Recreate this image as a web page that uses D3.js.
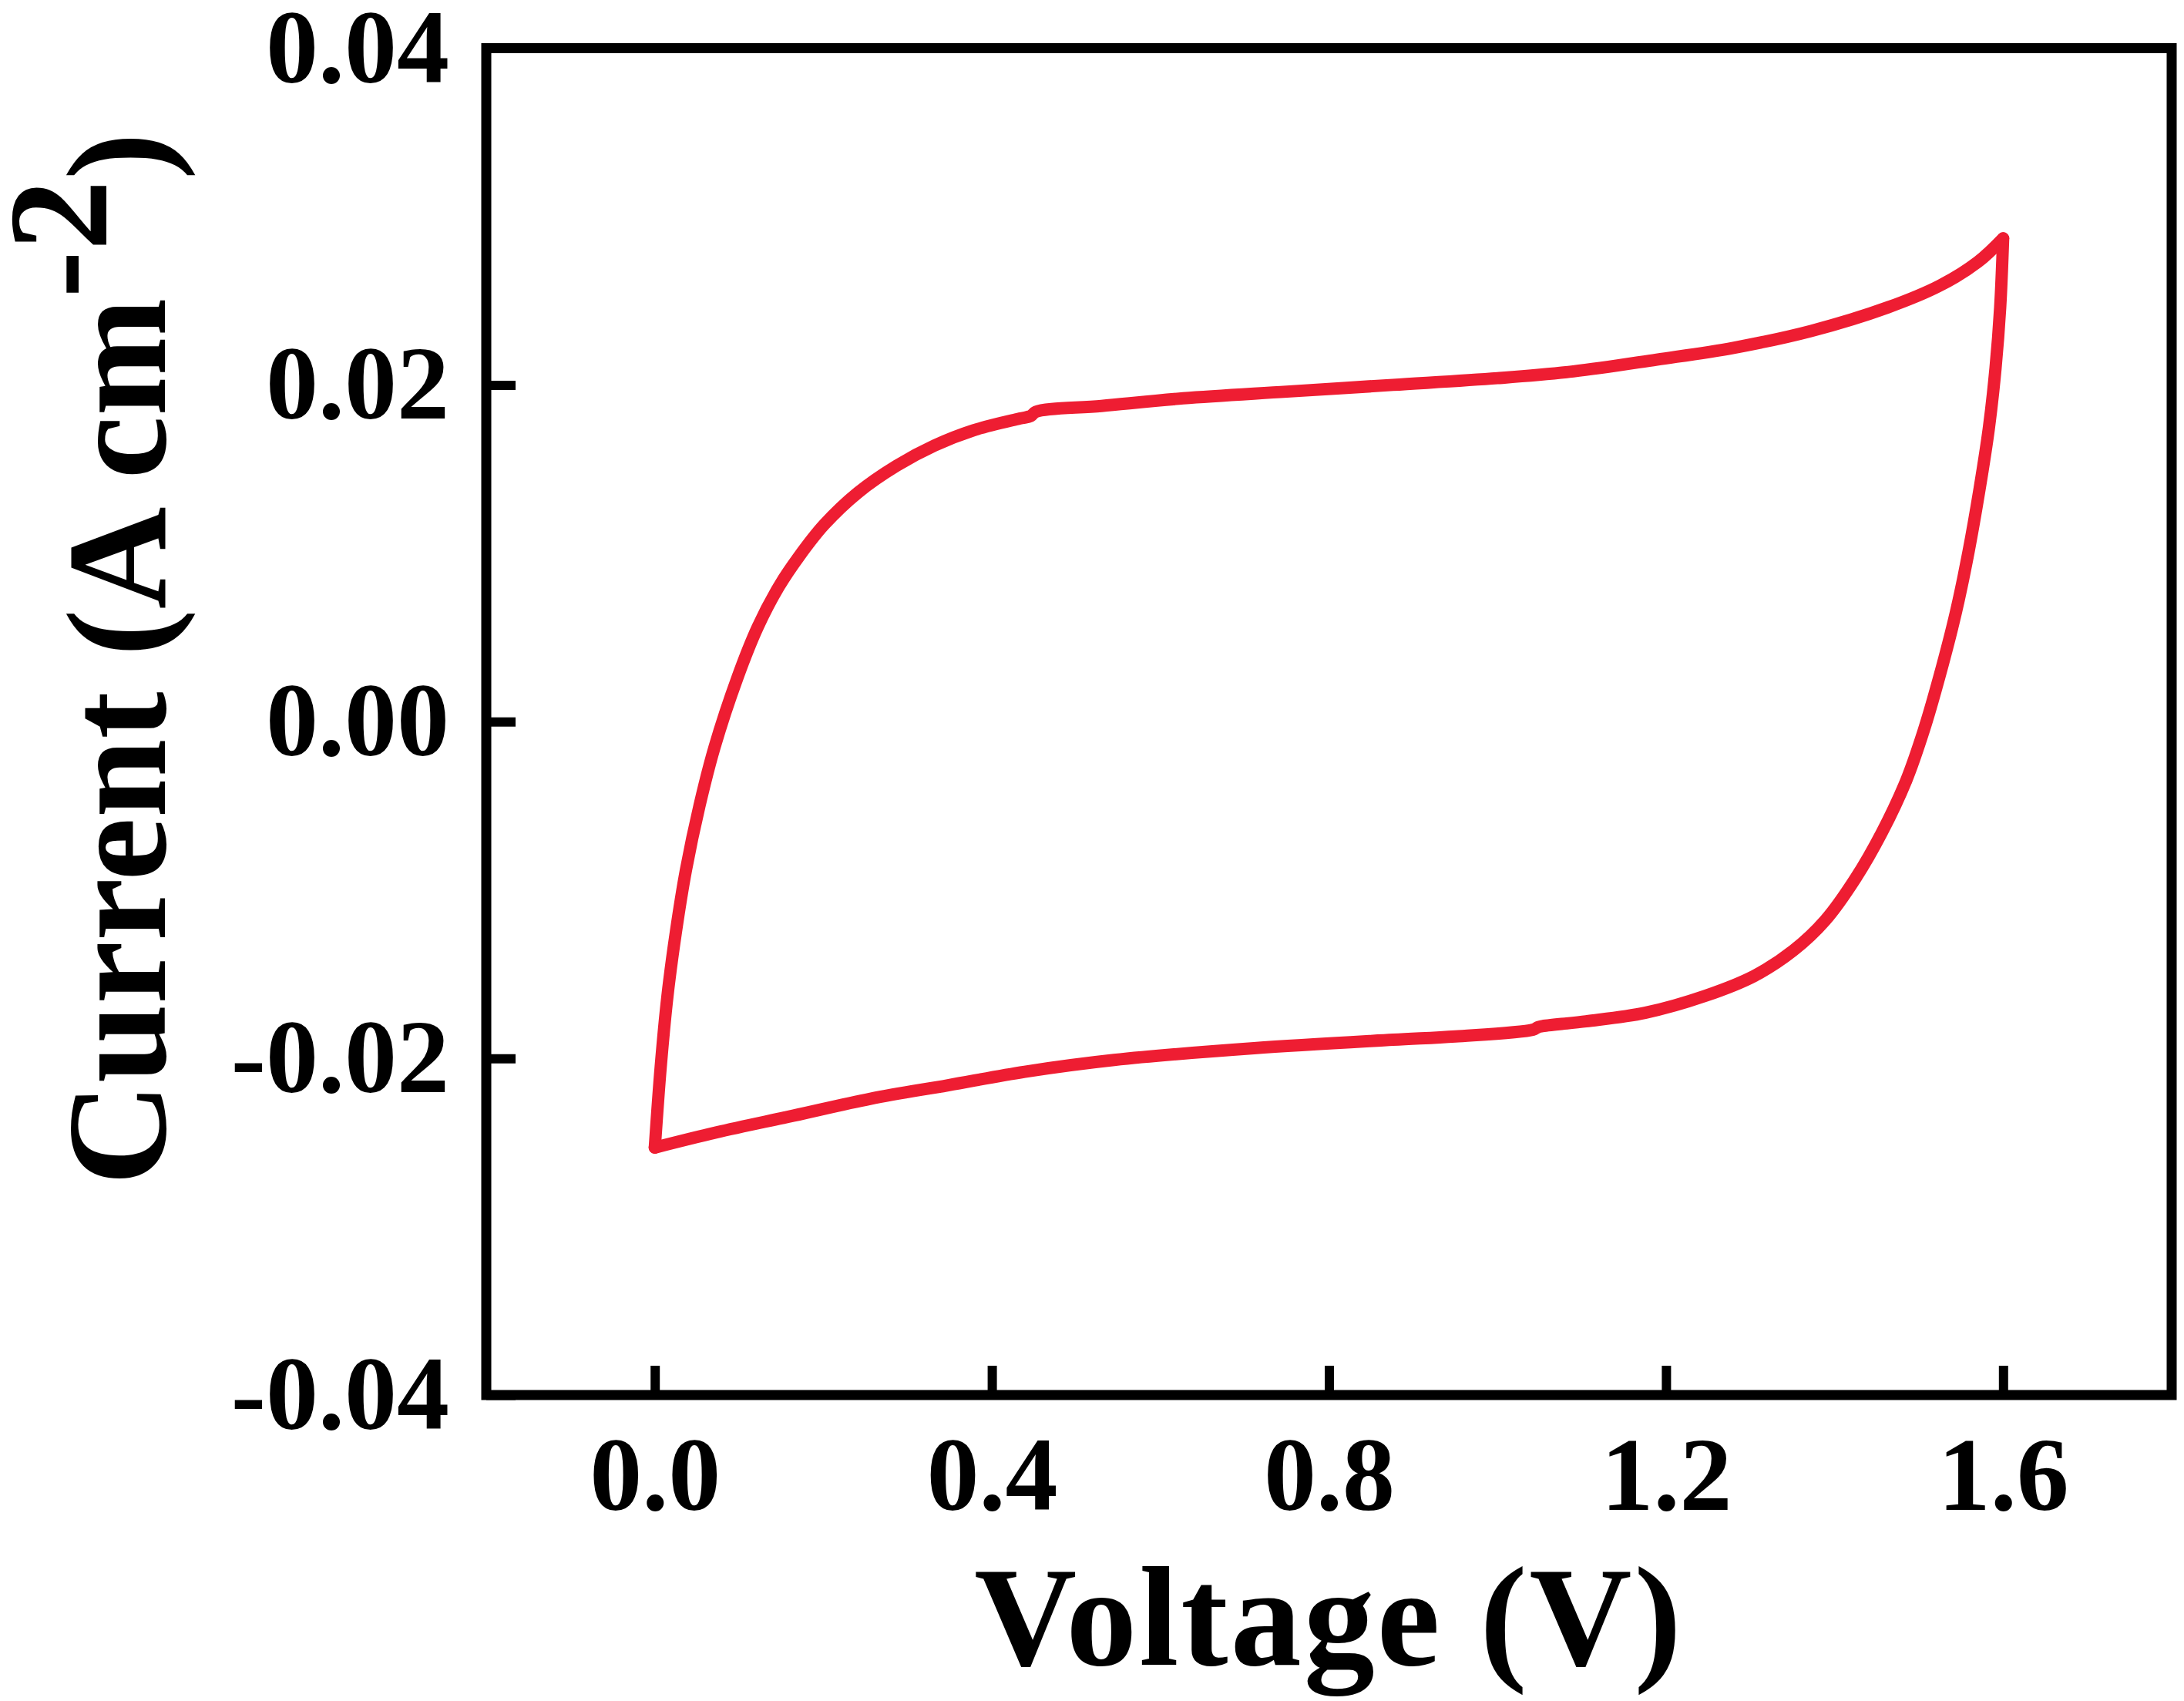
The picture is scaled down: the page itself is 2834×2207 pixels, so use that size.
<!DOCTYPE html>
<html>
<meta charset="utf-8">
<style>
  body {
    margin: 0;
    padding: 0;
    background-color: #ffffff;
  }
  text {
    font-family: "Liberation Serif", "Times New Roman", serif;
    font-weight: bold;
  }
  .tick text {
    font-size: 136px;
  }
  .axis-title {
    font-size: 184px;
  }
</style>
<body>

<script src="https://d3js.org/d3.v7.min.js"></script>

<div id="my_dataviz"></div>

<script>

// CV loop
// forward sweep 0 -> 1.6 V (upper branch)
var forwardV = [0, 0.007, 0.015, 0.025, 0.037, 0.053, 0.071, 0.098, 0.122, 0.147, 0.171, 0.201,
                0.241, 0.287, 0.332, 0.378, 0.433, 0.446, 0.452, 0.53, 0.627, 0.75, 0.876, 1.0,
                1.09, 1.189, 1.28, 1.372, 1.463, 1.525, 1.570, 1.600];
var forwardI = [-0.0253, -0.0205, -0.0163, -0.0125, -0.0088, -0.0050, -0.0015, 0.0026, 0.0056, 0.0080, 0.0098, 0.0117,
                0.0136, 0.0152, 0.0164, 0.0173, 0.0180, 0.01815, 0.0184, 0.01875, 0.0192, 0.0196, 0.0200, 0.0204,
                0.0208, 0.0215, 0.0222, 0.0232, 0.0246, 0.0259, 0.0273, 0.0287];

// reverse sweep 1.6 -> 0 V (lower branch)
var reverseV = [1.600, 1.5965, 1.591, 1.583, 1.572, 1.559, 1.544, 1.524, 1.506, 1.485, 1.456, 1.425,
                1.389, 1.351, 1.305, 1.246, 1.175, 1.105, 1.052, 1.048, 1.042, 0.95, 0.876, 0.711,
                0.545, 0.439, 0.348, 0.256, 0.165, 0.073, 0.0];
var reverseI = [0.0287, 0.0246, 0.0210, 0.0174, 0.0138, 0.0101, 0.0065, 0.0026, -0.0005, -0.0035, -0.0066, -0.0093,
                -0.0118, -0.0136, -0.0151, -0.0163, -0.0173, -0.0178, -0.0181, -0.01815, -0.0183, -0.0187, -0.0189, -0.0194,
                -0.0201, -0.0208, -0.0216, -0.0224, -0.0234, -0.0244, -0.0253];

var xTicks = [0, 0.4, 0.8, 1.2, 1.6];
var xTickLabels = ["0.0", "0.4", "0.8", "1.2", "1.6"];
var yTicks = [-0.04, -0.02, 0, 0.02, 0.04];
var yTickLabels = ["-0.04", "-0.02", "0.00", "0.02", "0.04"];

var xDomain = [-0.2, 1.8];
var yDomain = [-0.04, 0.04];

// dimensions
var margin = {top: 62.5, right: 16, bottom: 397, left: 631},
    width = 2834 - margin.left - margin.right,
    height = 2207 - margin.top - margin.bottom;

var svg = d3.select("#my_dataviz")
  .append("svg")
    .attr("width", 2834)
    .attr("height", 2207)
  .append("g")
    .attr("transform", "translate(" + margin.left + "," + margin.top + ")");

var x = d3.scaleLinear().domain(xDomain).range([0, width]);
var y = d3.scaleLinear().domain(yDomain).range([height, 0]);

// X axis, ticks pointing inwards
var xAxis = svg.append("g")
  .attr("transform", "translate(0," + height + ")")
  .call(d3.axisBottom(x)
    .tickValues(xTicks)
    .tickFormat(function(d, i) { return xTickLabels[i]; })
    .tickSizeInner(-38)
    .tickSizeOuter(0)
    .tickPadding(52));
xAxis.select(".domain").remove();
xAxis.selectAll(".tick line").attr("stroke", "#000").attr("stroke-width", 12);
xAxis.selectAll(".tick text").attr("fill", "#000");

// Y axis
var yAxis = svg.append("g")
  .call(d3.axisLeft(y)
    .tickValues(yTicks)
    .tickFormat(function(d, i) { return yTickLabels[i]; })
    .tickSizeInner(-38)
    .tickSizeOuter(0)
    .tickPadding(48));
yAxis.select(".domain").remove();
yAxis.selectAll(".tick line").attr("stroke", "#000").attr("stroke-width", 12);
yAxis.selectAll(".tick text").attr("fill", "#000");

// frame
svg.append("rect")
  .attr("x", x(xDomain[0]))
  .attr("y", y(yDomain[1]))
  .attr("width", x(xDomain[1]) - x(xDomain[0]))
  .attr("height", y(yDomain[0]) - y(yDomain[1]))
  .attr("fill", "none")
  .attr("stroke", "#000")
  .attr("stroke-width", 13);

// curve
var line = d3.line()
  .x(function(d) { return x(d[0]); })
  .y(function(d) { return y(d[1]); })
  .curve(d3.curveCatmullRom.alpha(0.5));

var branches = [
  d3.zip(forwardV, forwardI),
  d3.zip(reverseV, reverseI)
];

svg.selectAll(".cv")
  .data(branches)
  .enter()
  .append("path")
    .attr("class", "cv")
    .attr("d", line)
    .attr("fill", "none")
    .attr("stroke", "#ee1d32")
    .attr("stroke-width", 16)
    .attr("stroke-linecap", "round")
    .attr("stroke-linejoin", "round");

// X-axis title
svg.append("text")
  .attr("class", "axis-title")
  .attr("text-anchor", "middle")
  .attr("letter-spacing", 3)
  .attr("x", width / 2)
  .attr("y", 2160 - margin.top)
  .text("Voltage (V)");

// Y-axis title
var yTitle = svg.append("text")
  .attr("class", "axis-title")
  .attr("text-anchor", "middle")
  .attr("transform", "rotate(-90)")
  .attr("x", -(855 - margin.top))
  .attr("y", 214 - margin.left);
yTitle.append("tspan").text("Current (A cm");
yTitle.append("tspan").attr("dy", -76).text("-2");
yTitle.append("tspan").attr("dy", 76).text(")");

</script>
</body>
</html>
